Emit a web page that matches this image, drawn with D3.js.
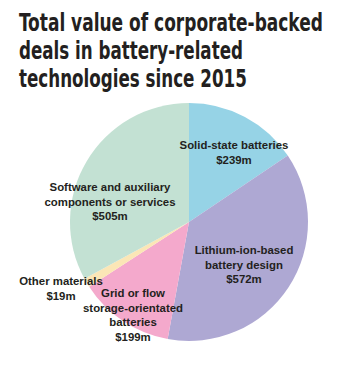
<!DOCTYPE html>
<html>
<head>
<meta charset="utf-8">
<script src="https://cdn.jsdelivr.net/npm/d3@7"></script>
<style>
  body { margin: 0; background: #fff; }
  svg { display: block; }
</style>
</head>
<body>
<div id="chart"></div>
<script>
// data, clockwise from 12 o'clock
const categories = ["Solid-state batteries", "Lithium-ion-based battery design", "Grid or flow storage-orientated batteries", "Other materials", "Software and auxiliary components or services"];
const values = [239, 572, 199, 19, 505];
const valueLabels = ["$239m", "$572m", "$199m", "$19m", "$505m"];
const colors = ["#96d3e6", "#aea8d3", "#f4a9cc", "#fbe6b6", "#c3e1d3"];
// label lines for each slice
const labelLines = [
  ["Solid-state batteries"],
  ["Lithium-ion-based", "battery design"],
  ["Grid or flow", "storage-orientated", "batteries"],
  ["Other materials"],
  ["Software and auxiliary", "components or services"]
];
const titleLines = ["Total value of corporate-backed", "deals in battery-related", "technologies since 2015"];
const titleWidths = [304, 224, 228]; // widths of the condensed title lines

const width = 352, height = 374;
const cx = 189, cy = 222, radius = 119;

// where each label block sits (first baseline), relative to pie centre
const labelAnchor = [
  [45, -73], [55, 32], [-56, 75], [-128, 63], [-79, -31]
];

const svg = d3.select("#chart").append("svg")
    .attr("width", width)
    .attr("height", height);

// title: squeeze the bold face horizontally to mimic a condensed font
svg.append("g")
  .selectAll("text")
  .data(titleLines)
  .join("text")
    .attr("x", 0)
    .attr("y", 0)
    .attr("font-family", "'DejaVu Sans Condensed', 'DejaVu Sans', sans-serif")
    .attr("font-weight", "bold")
    .attr("font-size", 25)
    .attr("fill", "#231f20")
    .text(d => d)
    .each(function(d, i) {
      const w = this.getComputedTextLength();
      const k = titleWidths[i] / w;
      d3.select(this).attr("transform", `translate(19,${31 + i * 28}) scale(${k},1)`);
    });

const pie = d3.pie().sort(null).value(d => d)(values);
const arc = d3.arc().innerRadius(0).outerRadius(radius);

const g = svg.append("g").attr("transform", `translate(${cx},${cy})`);

g.selectAll("path")
  .data(pie)
  .join("path")
    .attr("d", arc)
    .attr("fill", (d, i) => colors[i]);

const labels = g.selectAll("text.lab")
  .data(pie)
  .join("text")
    .attr("class", "lab")
    .attr("text-anchor", "middle")
    .attr("font-family", "'Liberation Sans', Arial, sans-serif")
    .attr("font-weight", "bold")
    .attr("font-size", 11.4)
    .attr("fill", "#231f20");

labels.each(function(d, i) {
  const t = d3.select(this);
  const lines = labelLines[i].concat([valueLabels[i]]);
  t.selectAll("tspan")
    .data(lines)
    .join("tspan")
      .attr("x", labelAnchor[i][0])
      .attr("y", (l, j) => labelAnchor[i][1] + j * 14.5)
      .text(l => l);
});
</script>
</body>
</html>
